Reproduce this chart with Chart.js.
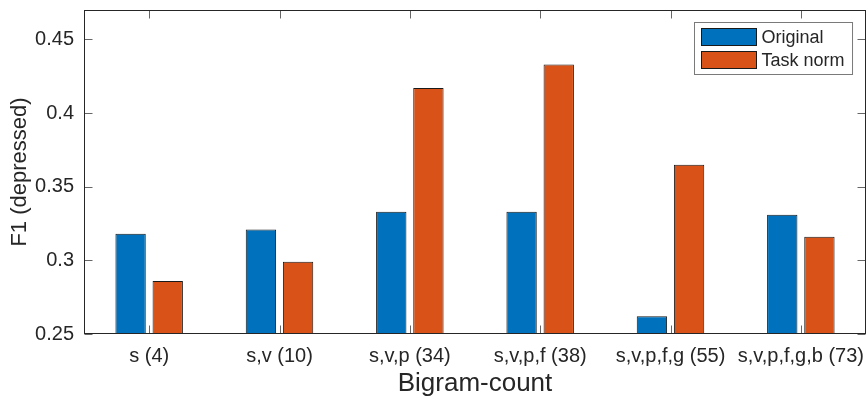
<!DOCTYPE html>
<html>
<head>
<meta charset="utf-8">
<script src="https://cdn.jsdelivr.net/npm/chart.js@4.4.1/dist/chart.umd.min.js"></script>
<style>
  html, body { margin: 0; padding: 0; background: #fff; }
  #wrap { width: 867px; height: 400px; position: relative; }
</style>
</head>
<body>
<div id="wrap"><canvas id="chart"></canvas></div>
<script>
// valores
const categories = ['s (4)', 's,v (10)', 's,v,p (34)', 's,v,p,f (38)', 's,v,p,f,g (55)', 's,v,p,f,g,b (73)'];
const seriesNames = ['Original', 'Task norm'];
const original = [0.318, 0.321, 0.333, 0.333, 0.262, 0.331];
const taskNorm = [0.286, 0.299, 0.417, 0.433, 0.365, 0.316];
const yTicks = [0.25, 0.3, 0.35, 0.4, 0.45];
const yTickLabels = ['0.25', '0.3', '0.35', '0.4', '0.45'];

const FONT = '"Liberation Sans", Arial, Helvetica, sans-serif';
const TEXT = '#262626';
const colors = ['#0072BD', '#D95319'];

// caixa dos eixos estilo MATLAB, ticks para dentro, e legenda
const axisBox = {
  id: 'axisBox',
  afterDraw(chart) {
    const { ctx, chartArea: a, scales: { x, y } } = chart;
    const L = Math.round(a.left) + 0.5, R = Math.round(a.right) - 0.5;
    const T = Math.round(a.top) + 0.5, B = Math.round(a.bottom) - 0.5;
    ctx.save();
    ctx.lineWidth = 1;

    ctx.strokeStyle = '#666';
    ctx.beginPath();
    yTicks.forEach(v => {
      const py = Math.round(y.getPixelForValue(v)) + 0.5;
      ctx.moveTo(L, py); ctx.lineTo(L + 8, py);
      ctx.moveTo(R, py); ctx.lineTo(R - 8, py);
    });
    categories.forEach((c, i) => {
      const px = Math.round(x.getPixelForValue(i)) + 0.5;
      ctx.moveTo(px, B); ctx.lineTo(px, B - 8);
      ctx.moveTo(px, T); ctx.lineTo(px, T + 8);
    });
    ctx.stroke();

    ctx.strokeStyle = TEXT;
    ctx.strokeRect(L, T, R - L, B - T);

    // legenda
    ctx.font = '18px ' + FONT;
    const textW = Math.max(...seriesNames.map(s => ctx.measureText(s).width));
    const sw = 55, sh = 17, rowH = 23;
    const boxW = 7 + sw + 5 + textW + 8;
    const boxH = 6 + rowH * seriesNames.length;
    const bx = Math.round(a.right - 14 - boxW) + 0.5;
    const by = Math.round(a.top + 12) + 0.5;
    ctx.fillStyle = '#fff';
    ctx.fillRect(bx, by, boxW, boxH);
    ctx.strokeStyle = '#7a7a7a';
    ctx.strokeRect(bx, by, boxW, boxH);
    seriesNames.forEach((name, i) => {
      const sy = by + 6 + i * rowH;
      ctx.fillStyle = colors[i];
      ctx.fillRect(bx + 7, sy, sw, sh);
      ctx.strokeStyle = '#1a1a1a';
      ctx.strokeRect(bx + 7, sy, sw, sh);
      ctx.fillStyle = TEXT;
      ctx.textBaseline = 'middle';
      ctx.textAlign = 'left';
      ctx.fillText(name, bx + 7 + sw + 5, sy + sh / 2 + 1);
    });
    ctx.restore();
  }
};

new Chart(document.getElementById('chart'), {
  type: 'bar',
  data: {
    labels: categories,
    datasets: [
      { label: seriesNames[0], data: original, backgroundColor: colors[0], borderColor: '#1a1a1a', borderWidth: 1 },
      { label: seriesNames[1], data: taskNorm, backgroundColor: colors[1], borderColor: '#1a1a1a', borderWidth: 1 }
    ]
  },
  options: {
    responsive: true,
    maintainAspectRatio: false,
    animation: false,
    devicePixelRatio: 1,
    layout: { padding: { top: 10, right: 1, left: 0, bottom: 0 } },
    datasets: { bar: { categoryPercentage: 0.57, barPercentage: 0.817 } },
    plugins: { legend: { display: false }, tooltip: { enabled: false } },
    scales: {
      x: {
        offset: true,
        grid: { display: false, drawTicks: false },
        border: { display: false },
        ticks: { color: TEXT, font: { family: FONT, size: 20 }, padding: 10, maxRotation: 0, autoSkip: false },
        title: { display: true, text: 'Bigram-count', color: TEXT, font: { family: FONT, size: 26 }, padding: { top: 0, bottom: 1 } },
        afterFit(s) { s.height = 66; s.paddingLeft = 0; s.paddingRight = 0; }
      },
      y: {
        min: 0.25,
        max: 0.47,
        grid: { display: false, drawTicks: false },
        border: { display: false },
        afterBuildTicks(s) { s.ticks = yTicks.map(v => ({ value: v })); },
        ticks: {
          color: TEXT, font: { family: FONT, size: 20 }, padding: 10,
          callback: (v) => yTickLabels[yTicks.indexOf(v)] ?? ''
        },
        title: { display: true, text: 'F1 (depressed)', color: TEXT, font: { family: FONT, size: 22 }, padding: { top: 7, bottom: 0 } },
        afterFit(s) { s.width = 84; s.paddingTop = 0; s.paddingBottom = 0; }
      }
    }
  },
  plugins: [axisBox]
});
</script>
</body>
</html>
